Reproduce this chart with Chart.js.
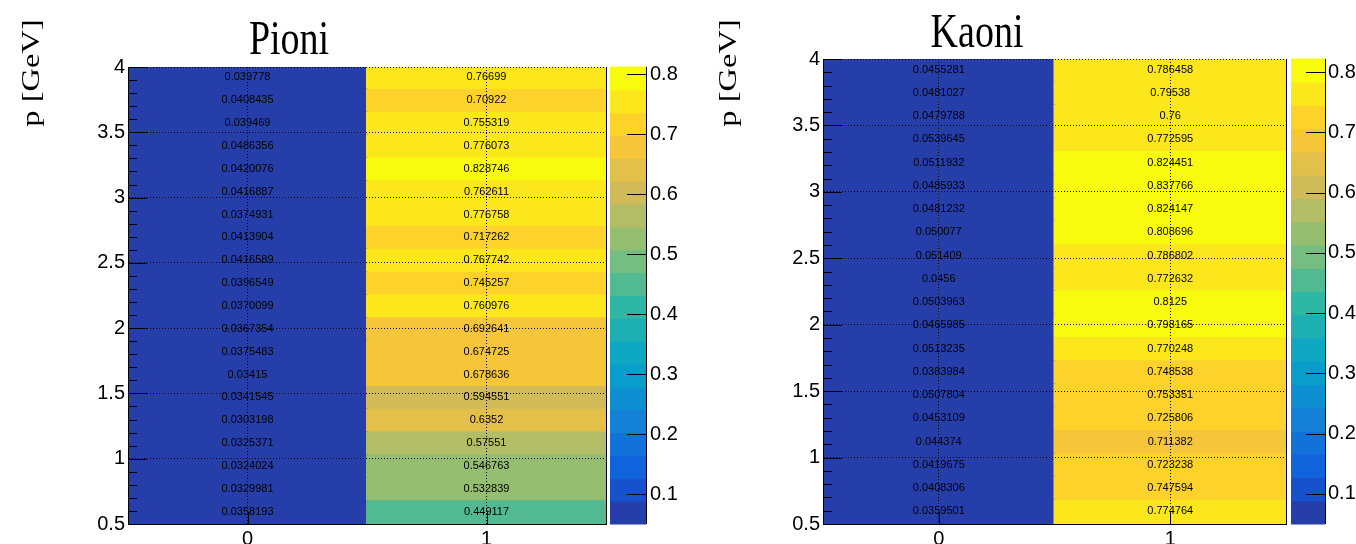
<!DOCTYPE html>
<html>
<head>
<meta charset="utf-8">
<script src="https://cdn.jsdelivr.net/npm/chart.js@4"></script>
<style>
  body { margin: 0; background: #fff; }
  #wrap { position: relative; width: 1356px; height: 544px; overflow: hidden; }
  canvas { position: absolute; top: 0; }
</style>
</head>
<body>
<div id="wrap">
  <canvas id="pioni" width="690" height="544" style="left:0px"></canvas>
  <canvas id="kaoni" width="666" height="544" style="left:690px"></canvas>
</div>
<script>
// x categories and p bin edges [GeV]
const xLabels = ['0', '1'];
const pEdges = [0.5, 0.675, 0.85, 1.025, 1.2, 1.375, 1.55, 1.725, 1.9, 2.075, 2.25,
  2.425, 2.6, 2.775, 2.95, 3.125, 3.3, 3.475, 3.65, 3.825, 4.0];

// cell values, listed from the lowest p bin upward
const pioniCol0 = [0.0358193, 0.0329981, 0.0324024, 0.0325371, 0.0303198, 0.0341545, 0.03415,
  0.0375483, 0.0367354, 0.0370099, 0.0396549, 0.0416589, 0.0413904, 0.0374931, 0.0416887,
  0.0420076, 0.0486356, 0.039469, 0.0408435, 0.039778];
const pioniCol1 = [0.449117, 0.532839, 0.546763, 0.57551, 0.6352, 0.594551, 0.678636,
  0.674725, 0.692641, 0.760976, 0.745257, 0.767742, 0.717262, 0.776758, 0.762611,
  0.828746, 0.776073, 0.755319, 0.70922, 0.76699];
const kaoniCol0 = [0.0359501, 0.0408306, 0.0419675, 0.044374, 0.0453109, 0.0507804, 0.0383984,
  0.0513235, 0.0465985, 0.0503963, 0.0456, 0.051409, 0.050077, 0.0481232, 0.0485933,
  0.0511932, 0.0539645, 0.0479788, 0.0481027, 0.0455281];
const kaoniCol1 = [0.774764, 0.747594, 0.723238, 0.711382, 0.725806, 0.753351, 0.748538,
  0.770248, 0.798165, 0.8125, 0.772632, 0.786802, 0.808696, 0.824147, 0.837766,
  0.824451, 0.772595, 0.76, 0.79538, 0.786458];

// ROOT kBird palette
const birdStops = [0.0, 0.125, 0.25, 0.375, 0.5, 0.625, 0.75, 0.875, 1.0];
const birdR = [0.2082, 0.0592, 0.0780, 0.0232, 0.1802, 0.5301, 0.8186, 0.9956, 0.9764];
const birdG = [0.1664, 0.3599, 0.5041, 0.6419, 0.7178, 0.7492, 0.7328, 0.7862, 0.9832];
const birdB = [0.5293, 0.8684, 0.8385, 0.7914, 0.6425, 0.4662, 0.3499, 0.1968, 0.0539];
const NLEVELS = 20;

function birdColor(t) {
  let i = 0;
  while (i < birdStops.length - 2 && t > birdStops[i + 1]) i++;
  const f = (t - birdStops[i]) / (birdStops[i + 1] - birdStops[i]);
  const c = a => Math.round(255 * (a[i] + (a[i + 1] - a[i]) * f));
  return `rgb(${c(birdR)},${c(birdG)},${c(birdB)})`;
}

function levelOf(v, zmin, zmax) {
  const l = Math.floor((v - zmin) / (zmax - zmin) * NLEVELS);
  return Math.max(0, Math.min(NLEVELS - 1, l));
}

// like ROOT: level i takes the palette colour at the top of its band
function levelColor(l) {
  return birdColor(Math.min(1, (l + 1) / NLEVELS));
}

const AXIS_FONT = { family: "'Liberation Sans', Arial, sans-serif", size: 20 };

// numbers printed in each cell
const cellText = {
  id: 'cellText',
  afterDatasetsDraw(chart) {
    const ctx = chart.ctx;
    ctx.save();
    ctx.font = "11px 'Liberation Sans', Arial, sans-serif";
    ctx.fillStyle = '#000';
    ctx.textAlign = 'center';
    ctx.textBaseline = 'middle';
    chart.data.datasets.forEach((ds, d) => {
      chart.getDatasetMeta(d).data.forEach((el, j) => {
        const p = el.getProps(['x', 'y', 'base'], true);
        ctx.fillText(String(ds.values[j]), p.x, (p.y + p.base) / 2 - 1);
      });
    });
    ctx.restore();
  }
};

// inward ticks, colour bar and titles
const decor = {
  id: 'decor',
  afterDraw(chart, args, o) {
    const ctx = chart.ctx;
    const { left, bottom } = chart.chartArea;
    const y = chart.scales.y, x = chart.scales.x, z = chart.scales.zbar;
    ctx.save();
    ctx.strokeStyle = '#000';
    ctx.lineWidth = 1;
    ctx.beginPath();
    for (let k = 5; k <= 40; k++) {
      const py = Math.round(y.getPixelForValue(k / 10)) + 0.5;
      const len = k % 5 === 0 ? 19 : 9;
      ctx.moveTo(left, py);
      ctx.lineTo(left + len, py);
    }
    xLabels.forEach((lab, i) => {
      const px = Math.round(x.getPixelForValue(i)) + 0.5;
      ctx.moveTo(px, bottom);
      ctx.lineTo(px, bottom - 12);
    });
    ctx.stroke();

    // colour bar
    const bx0 = z.left + o.barGap, bx1 = bx0 + o.barWidth;
    for (let i = 0; i < NLEVELS; i++) {
      const v0 = z.min + (z.max - z.min) * i / NLEVELS;
      const v1 = z.min + (z.max - z.min) * (i + 1) / NLEVELS;
      const p0 = z.getPixelForValue(v0), p1 = z.getPixelForValue(v1);
      ctx.fillStyle = levelColor(i);
      ctx.fillRect(bx0, p1 - 0.5, o.barWidth, p0 - p1 + 1);
    }
    ctx.beginPath();
    ctx.moveTo(bx1 + 0.5, z.top);
    ctx.lineTo(bx1 + 0.5, z.bottom);
    z.ticks.forEach(t => {
      const py = Math.round(z.getPixelForValue(t.value)) + 0.5;
      ctx.moveTo(bx1, py);
      ctx.lineTo(bx1 - 19, py);
    });
    ctx.stroke();

    // titles
    ctx.fillStyle = '#000';
    ctx.textAlign = 'center';
    ctx.textBaseline = 'alphabetic';
    ctx.font = "38px 'Liberation Serif', 'Times New Roman', serif";
    ctx.save();
    ctx.translate(o.titleX, o.titleY);
    ctx.scale(1, 1.25);
    ctx.fillText(o.title, 0, 0);
    ctx.restore();

    ctx.font = "25px 'Liberation Serif', 'Times New Roman', serif";
    ctx.textBaseline = 'middle';
    ctx.save();
    ctx.translate(o.yTitleX, o.yTitleY);
    ctx.scale(1, 1.3);
    ctx.rotate(-Math.PI / 2);
    ctx.fillText('p [GeV]', 0, 0);
    ctx.restore();
    ctx.restore();
  }
};

function makeChart(id, title, col0, col1, barMin, barMax, L) {
  // colour levels span the histogram content range
  const cmin = Math.min(...col0, ...col1);
  const cmax = Math.max(...col0, ...col1);
  const datasets = pEdges.slice(0, -1).map((lo, i) => ({
    data: [[lo, pEdges[i + 1]], [lo, pEdges[i + 1]]],
    values: [col0[i], col1[i]],
    backgroundColor: [levelColor(levelOf(col0[i], cmin, cmax)), levelColor(levelOf(col1[i], cmin, cmax))],
    borderWidth: 0,
    inflateAmount: 1,
    grouped: false,
    barPercentage: 1,
    categoryPercentage: 1
  }));
  const H = 544;
  return new Chart(document.getElementById(id), {
    type: 'bar',
    data: { labels: xLabels, datasets },
    options: {
      responsive: false,
      animation: false,
      layout: { padding: { top: L.top, left: 0, right: 0, bottom: 0 } },
      plugins: {
        legend: { display: false },
        tooltip: { enabled: false },
        decor: { title, titleX: L.titleX, titleY: L.titleY, yTitleX: L.yTitleX, yTitleY: L.yTitleY,
                 barGap: L.barGap, barWidth: L.barWidth }
      },
      scales: {
        x: {
          offset: true,
          grid: { offset: false, color: '#000', lineWidth: 1, drawTicks: false, z: 1 },
          border: { display: true, color: '#000', width: 1, dash: [1, 2], z: 2 },
          ticks: { color: '#000', font: AXIS_FONT, padding: 3, maxRotation: 0 },
          afterFit: s => { s.height = H - L.bottom; }
        },
        y: {
          type: 'linear',
          min: 0.5,
          max: 4,
          grid: { color: '#000', lineWidth: 1, drawTicks: false, z: 1 },
          border: { display: true, color: '#000', width: 1, dash: [1, 2], z: 2 },
          ticks: { stepSize: 0.5, color: '#000', font: AXIS_FONT, padding: 3,
                   callback: v => String(+v.toFixed(2)) },
          afterFit: s => { s.width = L.left; }
        },
        zbar: {
          type: 'linear',
          axis: 'y',
          position: 'right',
          min: barMin,
          max: barMax,
          grid: { display: true, drawOnChartArea: false, drawTicks: true,
                  tickLength: L.labelPad - 4, tickColor: 'rgba(0,0,0,0)' },
          border: { display: true, color: '#000', width: 1, z: 2 },
          ticks: { stepSize: 0.1, includeBounds: false, color: '#000', font: AXIS_FONT, padding: 4 },
          afterFit: s => { s.width = L.width - L.right; }
        }
      }
    },
    plugins: [cellText, decor]
  });
}

makeChart('pioni', 'Pioni', pioniCol0, pioniCol1, 0.05, 0.812, {
  width: 690, top: 67, bottom: 524, left: 128, right: 606,
  barGap: 4, barWidth: 36, labelPad: 44,
  titleX: 289, titleY: 54, yTitleX: 32, yTitleY: 73
});
makeChart('kaoni', 'Kaoni', kaoniCol0, kaoniCol1, 0.05, 0.822, {
  width: 666, top: 59, bottom: 524, left: 133, right: 596,
  barGap: 5, barWidth: 34, labelPad: 42,
  titleX: 287, titleY: 47, yTitleX: 39, yTitleY: 73
});
</script>
</body>
</html>
